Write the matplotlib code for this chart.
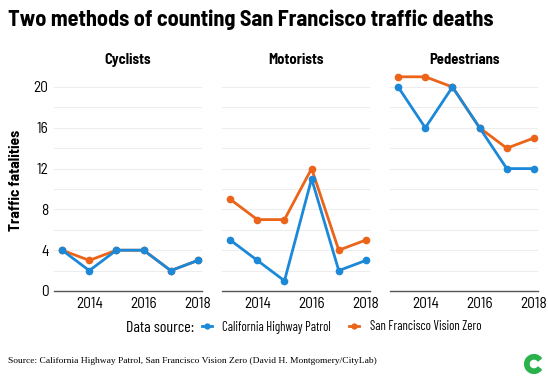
import numpy as np
import matplotlib
matplotlib.use('Agg')
import matplotlib.pyplot as plt
from matplotlib.lines import Line2D
from matplotlib.patches import Wedge

plt.rcParams['font.family'] = ['Barlow Semi Condensed', 'DejaVu Sans']

years = [2013, 2014, 2015, 2016, 2017, 2018]
panels = ['Cyclists', 'Motorists', 'Pedestrians']
chp = {
    'Cyclists': [4, 2, 4, 4, 2, 3],
    'Motorists': [5, 3, 1, 11, 2, 3],
    'Pedestrians': [20, 16, 20, 16, 12, 12],
}
sfvz = {
    'Cyclists': [4, 3, 4, 4, 2, 3],
    'Motorists': [9, 7, 7, 12, 4, 5],
    'Pedestrians': [21, 21, 20, 16, 14, 15],
}
yticks = [0, 4, 8, 12, 16, 20]
xticks = [2014, 2016, 2018]

blue = '#1b88d8'
orange = '#eb6419'

W, H = 548, 378
fig = plt.figure(figsize=(W/100, H/100), dpi=100)

lefts = [54, 222, 390]
pw = 148
bottom = 378 - 291
ph = 224.4

for i, (name, left) in enumerate(zip(panels, lefts)):
    ax = fig.add_axes([left/W, bottom/H, pw/W, ph/H])
    ax.set_xlim(2012.7, 2018.15)
    ax.set_ylim(0, 22)
    for g in range(2, 22, 2):
        ax.axhline(g, color='#ededed', lw=0.8, zorder=0)
    ax.plot(years, chp[name], color=blue, lw=2, marker='o', ms=4.5, zorder=3)
    ax.plot(years, sfvz[name], color=orange, lw=2, marker='o', ms=4.5, zorder=2)
    for s in ['top', 'right', 'left']:
        ax.spines[s].set_visible(False)
    ax.spines['bottom'].set_color('#555555')
    ax.spines['bottom'].set_linewidth(1)
    ax.set_xticks(xticks)
    ax.set_xticklabels([str(x) for x in xticks], fontsize=11)
    ax.set_yticks(yticks)
    if i == 0:
        ax.set_yticklabels([str(y) for y in yticks], fontsize=11)
    else:
        ax.set_yticklabels([])
    ax.tick_params(length=0, pad=4)
    ax.set_title(name, fontsize=10.5, fontweight='bold', pad=2)

fig.text(8/W, 1 - 20/H, 'Two methods of counting San Francisco traffic deaths',
         fontsize=16, fontweight='bold', va='center', ha='left')
fig.text(16/W, 1 - 180/H, 'Traffic fatalities', rotation=90, fontsize=11,
         fontweight='bold', va='center', ha='center')

# legend
fig.text(126/W, 1 - 328/H, 'Data source:', fontsize=11.5, va='center', ha='left',
         family='Barlow Condensed')
handles = [Line2D([], [], color=blue, lw=2, marker='o', ms=3.5),
           Line2D([], [], color=orange, lw=2, marker='o', ms=3.5)]
fig.legend(handles, ['California Highway Patrol', 'San Francisco Vision Zero'],
           loc='center left', bbox_to_anchor=(202/W, 1 - 327/H), ncol=2,
           frameon=False, prop={'family': 'Barlow Condensed', 'size': 9.2},
           handlelength=0.8, handletextpad=0.8,
           columnspacing=1.4, borderaxespad=0, borderpad=0)

fig.text(8/W, 1 - 361/H,
         'Source: California Highway Patrol, San Francisco Vision Zero (David H. Montgomery/CityLab)',
         fontsize=6.8, family='Liberation Serif', va='center', ha='left')

# logo
lax = fig.add_axes([522/W, (378 - 376)/H, 24/W, 24/H])
lax.set_xlim(-1, 1)
lax.set_ylim(-1, 1)
lax.set_aspect('equal')
lax.axis('off')
lax.add_patch(Wedge((0, 0), 0.78, 38, 178, width=0.36, color='#2bb24c'))
lax.add_patch(Wedge((0, 0), 0.78, 182, 322, width=0.36, color='#2bb24c'))

fig.savefig('out.png', dpi=100)
